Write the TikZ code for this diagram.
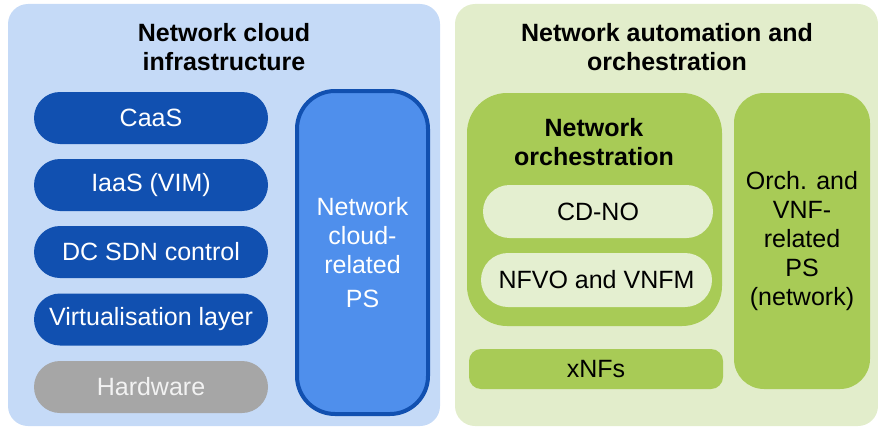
\documentclass[tikz,border=0pt]{standalone}
\usepackage{fontspec}
\setmainfont{Liberation Sans}
\usepackage{tikz}
\definecolor{cloudbg}{HTML}{C5DAF7}
\definecolor{cloudblue}{HTML}{1150B0}
\definecolor{psblue}{HTML}{4F8FEC}
\definecolor{hwgray}{HTML}{A6A6A6}
\definecolor{autobg}{HTML}{E2EDCB}
\definecolor{orchgreen}{HTML}{A8CB56}
\definecolor{lightgreen}{HTML}{E4EFD0}
\def\TXT{\fontsize{25}{29}\selectfont}

\begin{document}
\begin{tikzpicture}[x=1pt,y=-1pt,
  box/.style={rectangle,inner sep=0pt,align=center,font=\TXT},
  layer/.style={box,fill=cloudblue,text=white,rounded corners=26pt,minimum width=234,minimum height=52},
  title/.style={box,font=\TXT\bfseries}]
\useasboundingbox (0,0) rectangle (878,428);
% left part
\node[box,fill=cloudbg,rounded corners=20pt,minimum width=432,minimum height=422] (ncipanel) at (224,215) {};
\node[title] (ncititle) at (224,47.5) {Network cloud\\infrastructure};
\node[layer] (caas) at (151,118) {CaaS};
\node[layer] (iaas) at (151,185) {IaaS (VIM)};
\node[layer] (sdn) at (151,252) {DC SDN control};
\node[layer] (virt) at (151,319.5) {Virtualisation layer};
\node[layer,fill=hwgray,text=white!95!black] (hw) at (151,387) {Hardware};
\node[box,draw=cloudblue,line width=4pt,fill=psblue,text=white,rounded corners=38pt,
  minimum width=131,minimum height=323] (cloudps) at (362.5,252.5) {Network\\cloud-\\related\\[5pt]PS};
% right part
\node[box,fill=autobg,rounded corners=20pt,minimum width=423,minimum height=422] (naopanel) at (666.5,215) {};
\node[title] (naotitle) at (667,47.5) {Network automation and\\orchestration};
\node[box,fill=orchgreen,rounded corners=40pt,minimum width=255,minimum height=233] (orch) at (594.5,209.5) {};
\node[title] (orchtitle) at (594,142.5) {Network\\orchestration};
\node[box,fill=lightgreen,rounded corners=26.5pt,minimum width=230,minimum height=53] (cdno) at (598,211.5) {CD-NO};
\node[box,fill=lightgreen,rounded corners=27pt,minimum width=231,minimum height=54] (nfvo) at (596.5,280) {NFVO and VNFM};
\node[box,fill=orchgreen,rounded corners=12pt,minimum width=254,minimum height=40] (xnfs) at (596,369) {xNFs};
\node[box,fill=orchgreen,rounded corners=30pt,minimum width=136,minimum height=296] (orchps) at (802,241) {Orch. and\\VNF-\\related\\PS\\(network)};
\end{tikzpicture}
\end{document}
